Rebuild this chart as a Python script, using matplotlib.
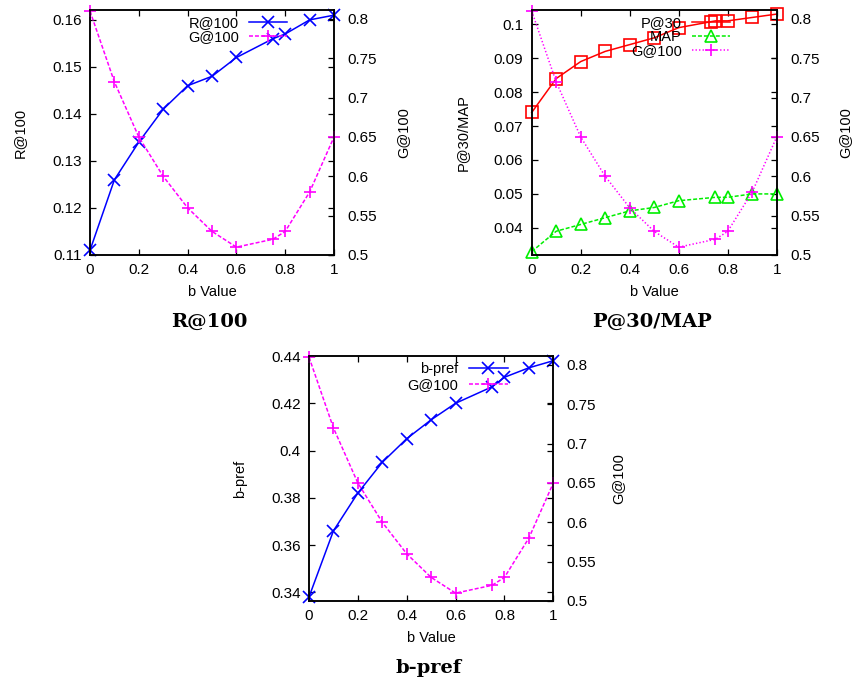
import matplotlib
matplotlib.use("Agg")
import matplotlib.pyplot as plt
from matplotlib.ticker import FixedLocator, FixedFormatter

plt.rcParams['font.family'] = ['Liberation Sans', 'DejaVu Sans']

# b parameter values
b_values = [0, 0.1, 0.2, 0.3, 0.4, 0.5, 0.6, 0.75, 0.8, 0.9, 1.0]

# metrics
r100 = [0.111, 0.126, 0.134, 0.141, 0.146, 0.148, 0.152, 0.156, 0.157, 0.160, 0.161]
g100 = [0.81, 0.72, 0.65, 0.60, 0.56, 0.53, 0.51, 0.52, 0.53, 0.58, 0.65]
p30 = [0.074, 0.084, 0.089, 0.092, 0.094, 0.096, 0.099, 0.101, 0.101, 0.102, 0.103]
map_vals = [0.033, 0.039, 0.041, 0.043, 0.045, 0.046, 0.048, 0.049, 0.049, 0.050, 0.050]
bpref = [0.338, 0.366, 0.382, 0.395, 0.405, 0.413, 0.420, 0.427, 0.431, 0.435, 0.438]

# tick labels
x_ticks = [0, 0.2, 0.4, 0.6, 0.8, 1.0]
x_labels = ["0", "0.2", "0.4", "0.6", "0.8", "1"]
g_ticks = [0.5, 0.55, 0.6, 0.65, 0.7, 0.75, 0.8]
g_labels = ["0.5", "0.55", "0.6", "0.65", "0.7", "0.75", "0.8"]
r_ticks = [0.11, 0.12, 0.13, 0.14, 0.15, 0.16]
r_labels = ["0.11", "0.12", "0.13", "0.14", "0.15", "0.16"]
p_ticks = [0.04, 0.05, 0.06, 0.07, 0.08, 0.09, 0.10]
p_labels = ["0.04", "0.05", "0.06", "0.07", "0.08", "0.09", "0.1"]
b_ticks = [0.34, 0.36, 0.38, 0.40, 0.42, 0.44]
b_labels = ["0.34", "0.36", "0.38", "0.4", "0.42", "0.44"]

BLUE = "#0000ff"
MAGENTA = "#ff00ff"
RED = "#ff0000"
GREEN = "#00ee00"
FS = 10.5
TFS = 11
LW = 1.1
DASHED = (0, (2.6, 1.3))
DOTTED = (0, (0.9, 1.4))

W, H = 853, 685
fig = plt.figure(figsize=(W / 100, H / 100), dpi=100)


def px_axes(left, top, right, bottom):
    return fig.add_axes([left / W, 1 - bottom / H, (right - left) / W, (bottom - top) / H])


def style_axes(ax, ax2, ylim, yt, yl, ylabel, ylab_x, ylab2_x):
    ax.set_xlim(0, 1)
    ax.set_ylim(*ylim)
    ax2.set_ylim(0.5, 0.8114)
    ax.xaxis.set_major_locator(FixedLocator(x_ticks))
    ax.xaxis.set_major_formatter(FixedFormatter(x_labels))
    ax.yaxis.set_major_locator(FixedLocator(yt))
    ax.yaxis.set_major_formatter(FixedFormatter(yl))
    ax2.yaxis.set_major_locator(FixedLocator(g_ticks))
    ax2.yaxis.set_major_formatter(FixedFormatter(g_labels))
    ax.tick_params(direction='in', top=True, right=True, length=4, width=0.9,
                   labelsize=TFS, pad=6, colors='black')
    ax2.tick_params(direction='in', right=True, left=False, length=4, width=0.9,
                    labelsize=TFS, pad=9.5)
    for a in (ax, ax2):
        for s in a.spines.values():
            s.set_linewidth(1.1)
    ax.set_xlabel("b Value", fontsize=FS)
    ax.xaxis.set_label_coords(0.5, -0.151)
    ax.xaxis.label.set_va('center')
    ax.set_ylabel(ylabel, fontsize=FS)
    ax.yaxis.set_label_coords(ylab_x, 0.5)
    ax.yaxis.label.set_va('center')
    ax2.set_ylabel("G@100", fontsize=FS)
    ax2.yaxis.set_label_coords(ylab2_x, 0.5)
    ax2.yaxis.label.set_va('center')
    ax2.yaxis.label.set_rotation(90)


def legend(ax2, handles, x_right, y_top, hl, spacing):
    ax2.legend(handles=handles, loc='upper right', bbox_to_anchor=(x_right, y_top),
               frameon=False, markerfirst=False, fontsize=FS, handlelength=hl,
               handletextpad=0.7, labelspacing=spacing, borderpad=0, borderaxespad=0,
               numpoints=1)


def title(x, y, text):
    fig.text(x / W, 1 - y / H, text, fontfamily='DejaVu Serif', fontweight='bold',
             fontsize=14, ha='center', va='center')


# ---- R@100 panel ----
ax = px_axes(90, 10, 334, 255)
ax2 = ax.twinx()
l1, = ax.plot(b_values, r100, color=BLUE, lw=LW, marker='x', ms=8, mew=1.2,
              clip_on=False, label="R@100")
l2, = ax2.plot(b_values, g100, color=MAGENTA, lw=LW, ls=DASHED, marker='+', ms=9,
               mew=1.2, clip_on=False, label="G@100")
style_axes(ax, ax2, (0.11, 0.1621), r_ticks, r_labels, "R@100", -0.287, 1.283)
legend(ax2, [l1, l2], 0.807, 0.974, 2.6, 0.0)
title(209, 322, "R@100")

# ---- P@30 / MAP panel ----
ax = px_axes(531.7, 10, 776.7, 255)
ax2 = ax.twinx()
l1, = ax.plot(b_values, p30, color=RED, lw=LW, marker='s', ms=9, mew=1.2,
              mfc='none', clip_on=False, label="P@30")
l2, = ax.plot(b_values, map_vals, color=GREEN, lw=LW, ls=DASHED, marker='^', ms=9,
              mew=1.2, mfc='none', clip_on=False, label="MAP")
l3, = ax2.plot(b_values, g100, color=MAGENTA, lw=LW, ls=DOTTED, marker='+', ms=9,
               mew=1.2, clip_on=False, label="G@100")
style_axes(ax, ax2, (0.032, 0.1042), p_ticks, p_labels, "P@30/MAP", -0.28, 1.279)
legend(ax2, [l1, l2, l3], 0.809, 0.974, 2.6, 0.0)
title(652, 322, "P@30/MAP")

# ---- b-pref panel ----
ax = px_axes(309, 356, 553.3, 601)
ax2 = ax.twinx()
l1, = ax.plot(b_values, bpref, color=BLUE, lw=LW, marker='x', ms=8, mew=1.2,
              clip_on=False, label="b-pref")
l2, = ax2.plot(b_values, g100, color=MAGENTA, lw=LW, ls=DASHED, marker='+', ms=9,
               mew=1.2, clip_on=False, label="G@100")
style_axes(ax, ax2, (0.3363, 0.44), b_ticks, b_labels, "b-pref", -0.282, 1.265)
legend(ax2, [l1, l2], 0.815, 0.974, 2.7, 0.12)
title(429, 668, "b-pref")

fig.savefig("out.png", dpi=100)
